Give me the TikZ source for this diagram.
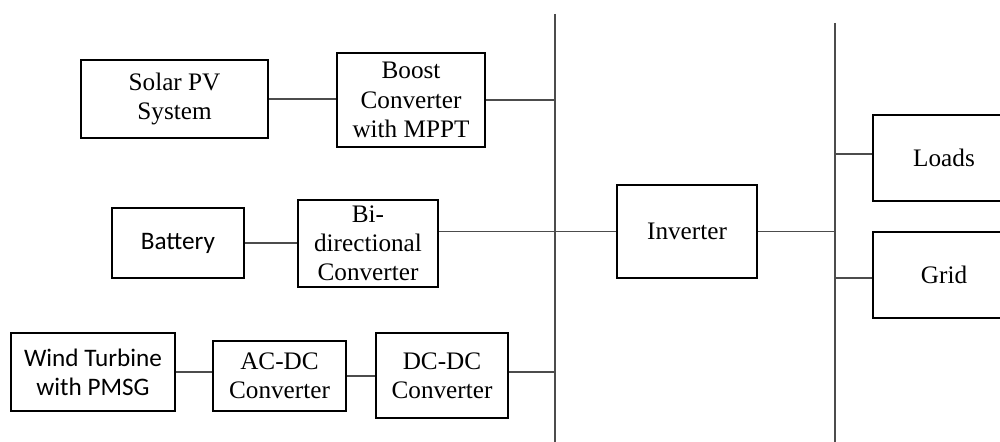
\documentclass[tikz,border=0pt]{standalone}
\usepackage{fontspec}
\setmainfont{Liberation Serif}
\newfontfamily\calib{Carlito}
\begin{document}
\begin{tikzpicture}[x=0.5pt,y=-0.5pt,
  blk/.style={draw=black, line width=1.2pt, fill=white, align=center,
    inner sep=0pt, font=\fontsize{12.6pt}{14.6pt}\selectfont},
  sblk/.style={blk, font=\calib\fontsize{12.6pt}{14.6pt}\selectfont},
  wire/.style={draw=black!70, line width=0.7pt},
  bus/.style={draw=black!70, line width=0.75pt}]
\useasboundingbox (0,0) rectangle (1000,442);
\clip (0,0) rectangle (1000,442);

% DC bus and AC bus
\coordinate (dctop) at (555,14);
\coordinate (dcbot) at (555,442);
\coordinate (actop) at (835,23);
\coordinate (acbot) at (835,442);
\draw[bus] (dctop) -- (dcbot);
\draw[bus] (actop) -- (acbot);

% sources and converters
\node[blk, minimum width=93.5pt, minimum height=39pt] (solar) at (174.5,99) {Solar PV\\System};
\node[blk, minimum width=74pt, minimum height=47pt] (boost) at (411,100) {Boost\\Converter\\with MPPT};
\node[sblk, minimum width=66pt, minimum height=35pt] (batt) at (178,243) {Battery};
\node[blk, minimum width=70pt, minimum height=43.5pt] (bidir) at (368,243.5) {Bi-\\directional\\Converter};
\node[sblk, minimum width=82pt, minimum height=39pt] (wind) at (93,372) {Wind Turbine\\with PMSG};
\node[blk, minimum width=66.5pt, minimum height=35pt] (acdc) at (279.5,376) {AC-DC\\Converter};
\node[blk, minimum width=66pt, minimum height=42.5pt] (dcdc) at (442,375.5) {DC-DC\\Converter};

% inverter and AC side
\node[blk, minimum width=70pt, minimum height=46.5pt] (inv) at (687,231.5) {Inverter};
\node[blk, minimum width=71pt, minimum height=43pt] (loads) at (944,158) {Loads};
\node[blk, minimum width=71pt, minimum height=43pt] (grid) at (944,275) {Grid};

% connections
\draw[wire] (solar.east) -- (solar.east -| boost.west);
\draw[wire] (boost.east) -- (boost.east -| dctop);
\draw[wire] (batt.east) -- (batt.east -| bidir.west);
\draw[wire] (bidir.east |- inv.west) -- (inv.west);
\draw[wire] (wind.east) -- (wind.east -| acdc.west);
\draw[wire] (acdc.east) -- (acdc.east -| dcdc.west);
\draw[wire] (dcdc.east |- wind.east) -- (wind.east -| dctop);
\draw[wire] (inv.east) -- (inv.east -| actop);
\draw[wire] ([yshift=2pt]loads.west -| actop) -- ([yshift=2pt]loads.west);
\draw[wire] ([yshift=-1.5pt]grid.west -| actop) -- ([yshift=-1.5pt]grid.west);
\end{tikzpicture}
\end{document}
